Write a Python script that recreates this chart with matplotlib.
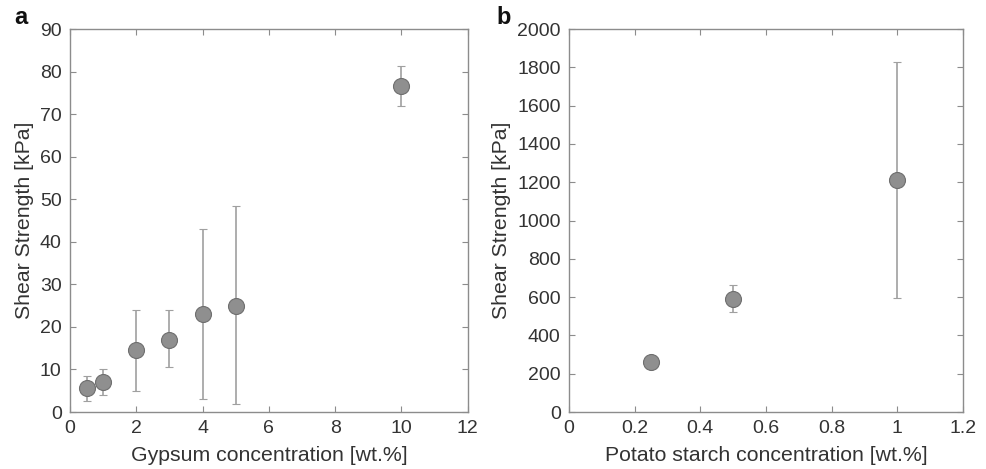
import matplotlib.pyplot as plt

plt.rcParams['font.family'] = ['Liberation Sans', 'DejaVu Sans']

# panel a: gypsum
gyp_conc = [0.5, 1, 2, 3, 4, 5, 10]
gyp_strength = [5.6, 7.0, 14.5, 17.0, 23.0, 25.0, 76.5]
gyp_low = [2.7, 4.0, 5.0, 10.5, 3.0, 1.8, 72.0]
gyp_high = [8.5, 10.0, 24.0, 24.0, 43.0, 48.3, 81.2]

# panel b: potato starch
starch_conc = [0.25, 0.5, 1.0]
starch_strength = [262, 590, 1212]
starch_low = [262, 520, 598]
starch_high = [262, 662, 1828]

text_col = "#333333"
axis_col = "#8c8c8c"


def panel(ax, x, y, lo, hi, xlim, xticks, ylim, yticks, xlabel, tag, tag_x):
    yerr = [[v - l for v, l in zip(y, lo)], [h - v for v, h in zip(y, hi)]]
    ax.errorbar(x, y, yerr=yerr, fmt="o", color="#9a9a9a", ecolor="#a0a0a0",
                elinewidth=1.2, capsize=3, capthick=1.0,
                markersize=11.5, markerfacecolor="#8f8f8f",
                markeredgecolor="#6e6e6e", markeredgewidth=0.8)
    ax.set_xlim(*xlim)
    ax.set_ylim(*ylim)
    ax.set_xticks(xticks)
    ax.set_yticks(yticks)
    ax.set_xticklabels([f"{t:g}" for t in xticks])
    ax.tick_params(direction="in", top=True, right=True, length=4,
                   color=axis_col, labelsize=14, labelcolor=text_col, pad=6)
    for s in ax.spines.values():
        s.set_color(axis_col)
        s.set_linewidth(1.0)
    ax.set_xlabel(xlabel, fontsize=15.3, color=text_col, labelpad=6)
    ax.set_ylabel("Shear Strength [kPa]", fontsize=15.3, color=text_col, labelpad=4)
    ax.text(tag_x, 1.0, tag, transform=ax.transAxes, fontsize=17,
            fontweight="bold", color="#111111", va="bottom", ha="left")


fig = plt.figure(figsize=(9.87, 4.69), dpi=100)
ax1 = fig.add_axes([0.0709, 0.1215, 0.403, 0.8166])
ax2 = fig.add_axes([0.5765, 0.1215, 0.399, 0.8166])

panel(ax1, gyp_conc, gyp_strength, gyp_low, gyp_high, (0, 12), [0, 2, 4, 6, 8, 10, 12],
      (0, 90), range(0, 91, 10), "Gypsum concentration [wt.%]", "a", -0.14)
panel(ax2, starch_conc, starch_strength, starch_low, starch_high, (0, 1.2),
      [0, 0.2, 0.4, 0.6, 0.8, 1.0, 1.2], (0, 2000), range(0, 2001, 200),
      "Potato starch concentration [wt.%]", "b", -0.185)

fig.savefig("out.png", dpi=100)
